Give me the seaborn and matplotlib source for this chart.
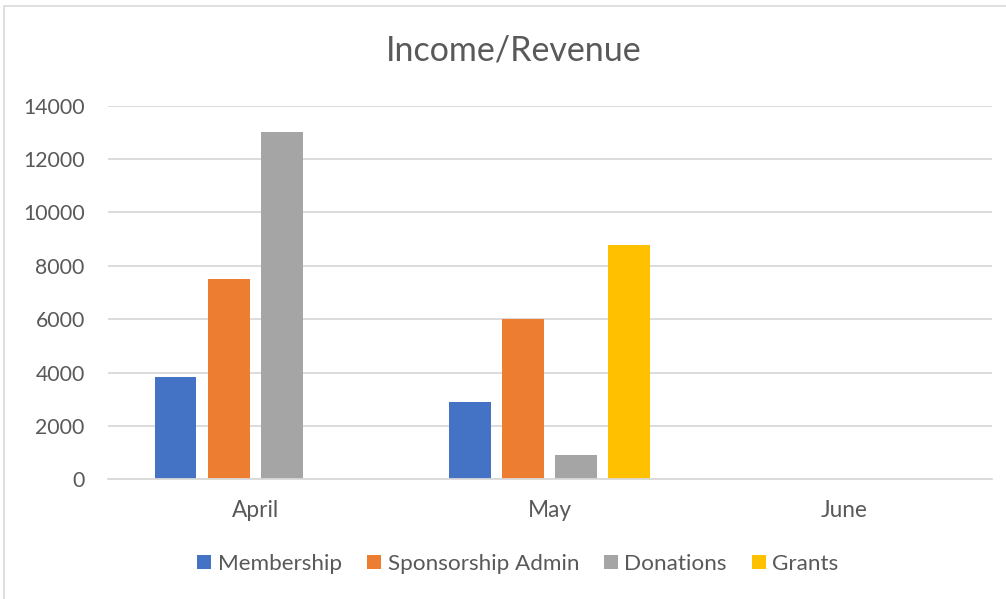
import pandas as pd
import matplotlib
matplotlib.use("Agg")
import matplotlib.pyplot as plt
from matplotlib.patches import Patch, Rectangle
import seaborn as sns

# chart data
months = ["April", "May", "June"]
membership = [3820, 2880, 0]
sponsorship_admin = [7500, 6000, 0]
donations = [13000, 920, 0]
grants = [0, 8780, 0]

series_names = ["Membership", "Sponsorship Admin", "Donations", "Grants"]
colors = ["#4472C4", "#ED7D31", "#A5A5A5", "#FFC000"]
y_ticks = [0, 2000, 4000, 6000, 8000, 10000, 12000, 14000]

# long-form table for seaborn
rows = []
for name, values in zip(series_names, [membership, sponsorship_admin, donations, grants]):
    for month, v in zip(months, values):
        rows.append({"Month": month, "Series": name, "Value": v})
df = pd.DataFrame(rows)

sns.set_style("white")
plt.rcParams["font.family"] = ["Lato", "DejaVu Sans"]
text_color = "#595959"
grid_color = "#D9D9D9"

fig = plt.figure(figsize=(10.06, 5.99), dpi=100)
ax = fig.add_axes([0.1071, 0.1998, 0.8787, 0.6237])

sns.barplot(data=df, x="Month", y="Value", hue="Series", order=months,
            hue_order=series_names, palette=colors, saturation=1,
            width=0.72, gap=0.21, linewidth=0, ax=ax, legend=False, errorbar=None)

ax.set_ylim(0, 14000)
ax.set_xlim(-0.5, 2.5)
ax.set_yticks(y_ticks)
ax.set_yticklabels([str(t) for t in y_ticks])
ax.yaxis.grid(True, color=grid_color, linewidth=1.3)
ax.set_axisbelow(True)
for side in ["top", "right", "left"]:
    ax.spines[side].set_visible(False)
ax.spines["bottom"].set_color(grid_color)
ax.spines["bottom"].set_linewidth(1.3)
ax.tick_params(axis="both", length=0, colors=text_color)
ax.tick_params(axis="y", pad=16.5, labelsize=15.3)
ax.tick_params(axis="x", pad=15, labelsize=16.3)
ax.set_xlabel("")
ax.set_ylabel("")

fig.text(513.5 / 1006, 1 - 50 / 599, "Income/Revenue", ha="center", va="center",
         fontsize=24.5, color=text_color)

handles = [Patch(facecolor=c, edgecolor="none") for c in colors]
fig.legend(handles, series_names, loc="center", bbox_to_anchor=(518 / 1006, 1 - 564 / 599),
           ncol=4, frameon=False, fontsize=16.2, labelcolor=text_color,
           handlelength=0.62, handleheight=0.62, handletextpad=0.3, columnspacing=1.1)

# chart area border
fig.patches.append(Rectangle((3.5 / 1006, -0.1), 1.2, 1.1 - 6 / 599,
                             transform=fig.transFigure, fill=False,
                             edgecolor=grid_color, linewidth=1.2))

fig.savefig("out.png", dpi=100)
